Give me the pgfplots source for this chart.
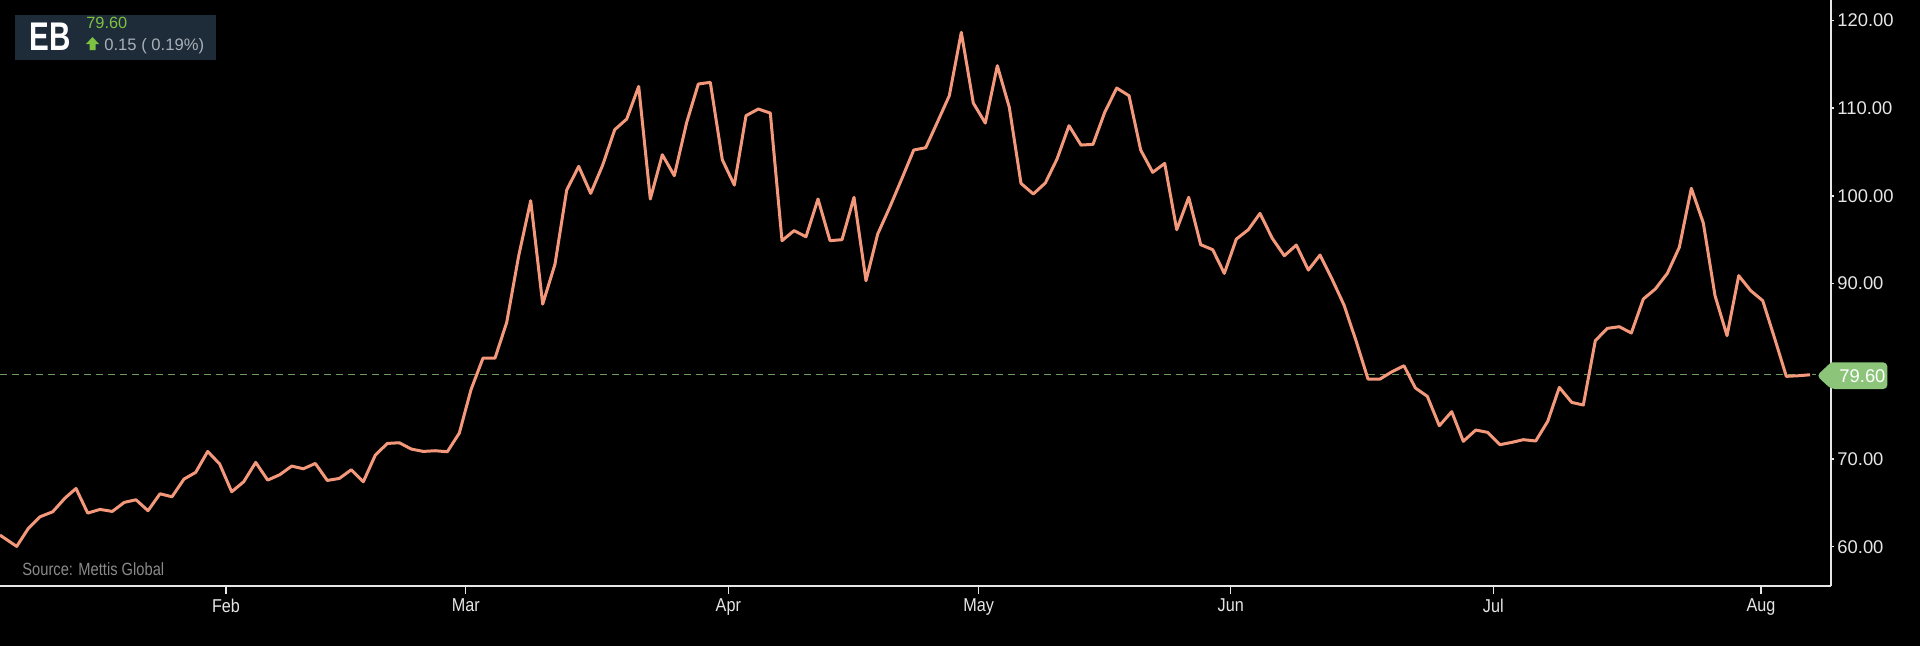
\documentclass[border=0pt]{standalone}
\usepackage{fontspec}
\setmainfont{Liberation Sans}
\newfontfamily\condfont{Liberation Sans}[FakeStretch=0.87]
\newfontfamily\srcfont{Liberation Sans}[FakeStretch=0.83]
\newfontfamily\ebfont{Liberation Sans}[FakeStretch=0.74]
\usepackage{pgfplots}
\pgfplotsset{compat=1.18}
\usepackage{pgfplotstable}
\definecolor{linecol}{RGB}{244,152,124}
\definecolor{dashcol}{RGB}{107,154,91}
\definecolor{tagcol}{RGB}{140,196,122}
\definecolor{boxcol}{RGB}{30,43,56}
\definecolor{pricegreen}{RGB}{125,194,66}
\definecolor{chggray}{RGB}{169,177,185}
\definecolor{axiscol}{RGB}{230,230,230}
\definecolor{srcgray}{RGB}{138,138,138}

\pgfplotstableread{
x y
0 61.32
16.7 60.03
28.3 62.08
40 63.41
52.7 63.98
65 65.54
76 66.64
87.7 63.83
100 64.25
112.3 64.02
124.3 65.05
136 65.35
148 64.10
160 66.03
172 65.69
184 67.71
195.7 68.47
207.7 70.86
219.7 69.42
231.7 66.26
243.7 67.40
255.7 69.61
267.7 67.59
279.7 68.20
291.7 69.19
303.3 68.88
315.3 69.49
327.3 67.55
339.3 67.78
351.3 68.77
363.3 67.40
375.3 70.44
387.3 71.77
399.3 71.85
411.3 71.13
423.3 70.86
435.3 70.94
447.3 70.82
459.3 72.95
471 77.9
483 81.5
495 81.5
506.7 85.57
518.7 93.17
530.7 99.45
542.7 87.66
555 92.22
566.7 100.66
578.7 103.36
590.7 100.28
602.7 103.51
614.7 107.54
626.7 108.76
638.7 112.48
650.3 99.64
662.3 104.69
674.3 102.30
686.7 108.38
698.3 112.75
710.3 112.94
722.3 104.12
734.3 101.23
746 109.14
758.3 109.90
770.3 109.44
782 94.89
794 96.03
806 95.34
818 99.64
830 94.89
842 95.0
854 99.83
866 90.32
877.7 95.65
889.7 98.69
901.7 101.92
913.7 105.22
925.7 105.49
937.3 108.38
949.3 111.42
961.3 118.64
973.3 110.58
985.3 108.30
997.3 114.84
1009.3 110.09
1021 101.42
1033.3 100.21
1045.3 101.46
1057 104.20
1069 108.0
1081 105.79
1093 105.87
1104.7 109.52
1116.7 112.29
1129 111.42
1140.7 105.22
1152.7 102.68
1164.7 103.70
1176.7 96.14
1188.7 99.83
1200.7 94.43
1212.7 93.86
1224.3 91.16
1236.3 95.07
1248.3 96.14
1260 98.0
1272.3 95.15
1284.3 93.17
1296.3 94.39
1308.3 91.54
1320 93.25
1332 90.51
1344 87.55
1356 83.48
1368 79.11
1380 79.11
1392 79.95
1404 80.63
1415.3 78.1
1427.3 77.14
1439.3 73.79
1451.7 75.39
1463.3 72.01
1475.7 73.30
1487.7 73.03
1500 71.63
1511.7 71.89
1523.3 72.20
1535.7 72.05
1547.7 74.29
1559.3 78.16
1571.7 76.45
1583.3 76.15
1595.3 83.49
1607.3 84.89
1619.3 85.08
1631.3 84.36
1643.3 88.24
1655.3 89.38
1667.3 91.16
1679.3 94.13
1691.3 100.86
1703.3 96.90
1715 88.62
1727 84.06
1738.7 90.90
1750.7 89.19
1762.7 88.05
1774.3 83.87
1786.3 79.42
1798.3 79.49
1810 79.60
}\pricedata

\begin{document}
\begin{tikzpicture}
\fill[black] (-5pt,-5pt) rectangle (965pt,327.5pt);

\begin{axis}[
  at={(0pt,29.65pt)}, anchor=south west,
  scale only axis, width=915.5pt, height=292.85pt,
  xmin=0, xmax=1831, ymin=55.55, ymax=122.33,
  axis x line*=bottom, axis y line*=right,
  axis line style={-, draw=axiscol, line width=1pt},
  tick align=outside,
  major tick length=1.5pt,
  tick style={draw=axiscol, line width=0.7pt},
  xtick=\empty,
  extra x ticks={226,465.7,728.3,978.7,1230.7,1493.3,1761},
  extra x tick labels={Feb,Mar,Apr,May,Jun,Jul,Aug},
  extra x tick style={major tick length=4pt, tick align=outside,
     tick style={draw=axiscol, line width=0.7pt}},
  xticklabel style={font=\condfont\fontsize{9.3}{10}\selectfont, text=axiscol, anchor=north, inner sep=0pt, yshift=-2.5pt},
  ytick={60,70,...,120},
  yticklabel style={font=\fontsize{9.2}{10}\selectfont, text=axiscol, anchor=west, inner sep=0pt, xshift=1.5pt,
     /pgf/number format/.cd, fixed, fixed zerofill, precision=2, assume math mode=true},
  clip=true,
]
\addplot[dashcol, line width=0.5pt, dash pattern=on 3.5pt off 2.5pt] coordinates {(0,79.6) (1816,79.6)};
\addplot[linecol, line width=1.5pt, line join=round, no marks] table[x=x,y=y] {\pricedata};
\end{axis}

\begin{scope}[x=0.5pt,y=0.5pt]
% price tag
\fill[tagcol, rounded corners=2pt] (1831,282.6) -- (1887.3,282.6) -- (1887.3,256) -- (1831,256) -- (1816.7,269.3) [sharp corners] -- cycle;
\node[anchor=west, inner sep=0pt, text=white] at (1839,269.3) {\fontsize{9.2}{10}\selectfont 79.60};

% header box
\fill[boxcol] (15,585) rectangle (216,630);
\node[anchor=base west, inner sep=0pt, text=white] at (29,595) {\ebfont\bfseries\fontsize{20}{20}\selectfont EB};
\node[anchor=base west, inner sep=0pt, text=pricegreen] at (86,617) {\fontsize{8.15}{9}\selectfont 79.60};
\fill[pricegreen] (92.5,608) -- (99,601) -- (95.5,601) -- (95.5,595) -- (89.5,595) -- (89.5,601) -- (86,601) -- cycle;
\node[anchor=base west, inner sep=0pt, text=chggray] at (104,594.5) {\fontsize{8.3}{9}\selectfont 0.15 ( 0.19\%)};

% source
\node[anchor=base west, inner sep=0pt, text=srcgray] at (22,70) {\srcfont\fontsize{8.85}{9}\selectfont Source: Mettis Global};
\end{scope}

\pgfresetboundingbox
\useasboundingbox (0pt,0pt) rectangle (960pt,322.5pt);
\end{tikzpicture}
\end{document}
